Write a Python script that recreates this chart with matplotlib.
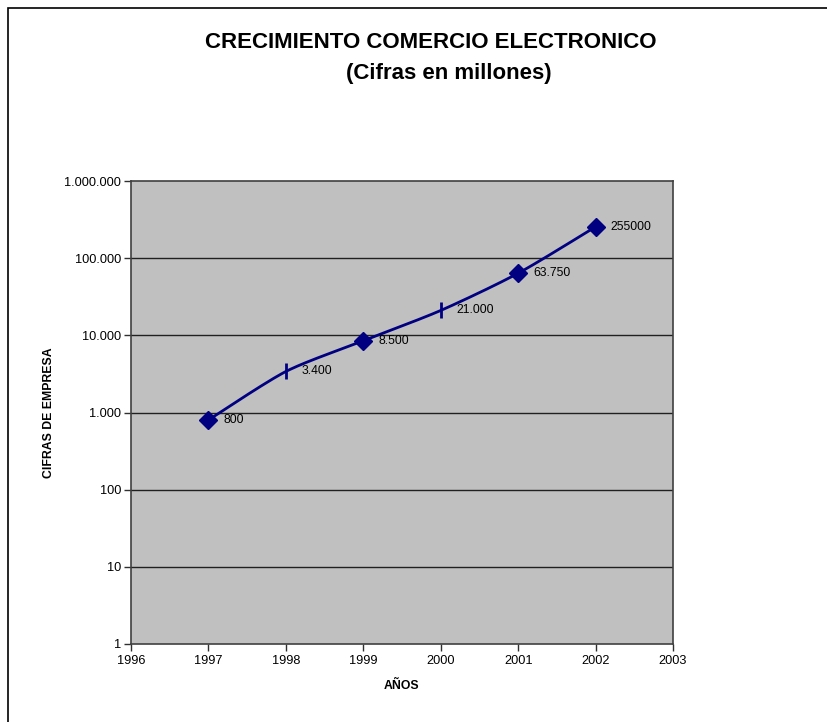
import matplotlib
matplotlib.use("Agg")
import matplotlib.pyplot as plt
import numpy as np
from matplotlib.patches import Rectangle
from matplotlib.ticker import FixedLocator, FuncFormatter, NullLocator

plt.rcParams['font.family'] = ['Liberation Sans', 'DejaVu Sans']

years = [1997, 1998, 1999, 2000, 2001, 2002]
values = [800, 3400, 8500, 21000, 63750, 255000]
labels = ["800", "3.400", "8.500", "21.000", "63.750", "255000"]
markers = ["D", "|", "D", "|", "D", "D"]

NAVY = "#000080"


def smooth(xs, ys, k=8, n=30):
    # Excel-style smoothing: cubic bezier with catmull-rom control points
    x = np.asarray(xs, float)
    y = np.log10(np.asarray(ys, float))
    px = np.concatenate([[x[0]], x, [x[-1]]])
    py = np.concatenate([[y[0]], y, [y[-1]]])
    outx, outy = [], []
    t = np.linspace(0, 1, n)
    for i in range(1, len(px) - 2):
        p0 = np.array([px[i], py[i]])
        p3 = np.array([px[i + 1], py[i + 1]])
        p1 = p0 + (np.array([px[i + 1], py[i + 1]]) - np.array([px[i - 1], py[i - 1]])) / k
        p2 = p3 - (np.array([px[i + 2], py[i + 2]]) - np.array([px[i], py[i]])) / k
        b = ((1 - t) ** 3)[:, None] * p0 + (3 * (1 - t) ** 2 * t)[:, None] * p1 \
            + (3 * (1 - t) * t ** 2)[:, None] * p2 + (t ** 3)[:, None] * p3
        outx.extend(b[:, 0])
        outy.extend(b[:, 1])
    return np.array(outx), 10 ** np.array(outy)


fig = plt.figure(figsize=(8.27, 7.22), dpi=100)
fig.patches.append(Rectangle((8 / 827, -0.1), 1.2, 1 - 8 / 722 + 0.1,
                             transform=fig.transFigure, fill=False,
                             edgecolor="black", linewidth=1.2))

ax = fig.add_axes([131 / 827, 1 - 644 / 722, 542 / 827, 463 / 722])
ax.set_facecolor("#c0c0c0")
ax.set_yscale("log")
ax.set_xlim(1996, 2003)
ax.set_ylim(1, 1000000)

for v in [10, 100, 1000, 10000, 100000]:
    ax.axhline(v, color="#202020", linewidth=1, zorder=1)

sx, sy = smooth(years, values)
ax.plot(sx, sy, color=NAVY, linewidth=2, zorder=3)
for x, y, m, lab in zip(years, values, markers, labels):
    if m == "D":
        ax.plot(x, y, marker="D", markersize=9, color=NAVY, zorder=4)
    else:
        ax.plot(x, y, marker="|", markersize=11, markeredgewidth=2, color=NAVY, zorder=4)
    ax.annotate(lab, (x, y), xytext=(11, 0), textcoords="offset points",
                va="center", ha="left", fontsize=8.7, color="black")

ax.yaxis.set_major_locator(FixedLocator([1, 10, 100, 1000, 10000, 100000, 1000000]))
ax.yaxis.set_minor_locator(NullLocator())
ax.yaxis.set_major_formatter(FuncFormatter(lambda v, p: f"{int(round(v)):,}".replace(",", ".")))
ax.set_xticks(range(1996, 2004))
ax.tick_params(axis="both", direction="out", length=5, width=1, labelsize=9.2,
               color="#303030", pad=3)
ax.tick_params(axis="y", pad=2)
for s in ax.spines.values():
    s.set_color("#404040")
    s.set_linewidth(1.2)

ax.set_xlabel("AÑOS", fontsize=8.8, fontweight="bold", labelpad=9)
ax.set_ylabel("CIFRAS DE EMPRESA", fontsize=8.8, fontweight="bold", labelpad=7)

fig.text(431 / 827, 1 - 43 / 722, "CRECIMIENTO COMERCIO ELECTRONICO",
         ha="center", va="center", fontsize=16, fontweight="bold")
fig.text(449 / 827, 1 - 74 / 722, "(Cifras en millones)",
         ha="center", va="center", fontsize=16, fontweight="bold")

fig.savefig("out.png", dpi=100)
